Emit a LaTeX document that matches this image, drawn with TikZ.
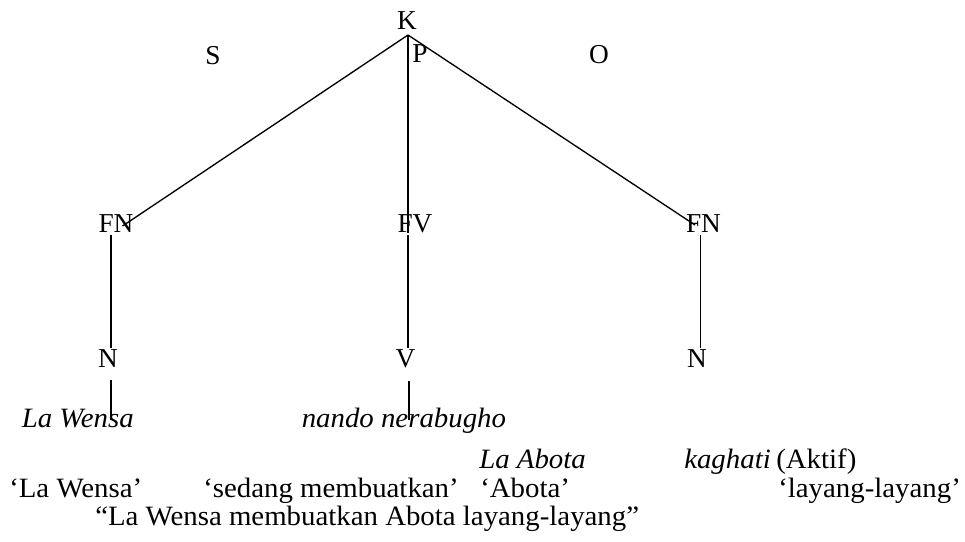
\documentclass[tikz,border=0pt]{standalone}
\usepackage{fontspec}
\setmainfont{Liberation Serif}
\newfontfamily\widefont{Liberation Serif}[FakeStretch=1.03]
\begin{document}
\begin{tikzpicture}[x=0.75pt,y=-0.75pt,
  lbl/.style={inner sep=0pt,anchor=base,font=\fontsize{20.5}{24}\selectfont},
  txt/.style={inner sep=0pt,anchor=base west,font=\widefont\fontsize{21}{24}\selectfont},
  branch/.style={line width=1pt,black}]
\useasboundingbox (0,0) rectangle (965,542);
% tree labels
\node[lbl] (K) at (407,30) {K};
\node[lbl] (S) at (213,65) {S};
\node[lbl] (P) at (420,63) {P};
\node[lbl] (O) at (599,64) {O};
\node[lbl] (FN1) at (116,233) {FN};
\node[lbl] (FV) at (415,233) {FV};
\node[lbl] (FN2) at (703.5,233) {FN};
\node[lbl] (N1) at (108,367) {N};
\node[lbl] (V) at (405.5,367) {V};
\node[lbl] (N2) at (697,367) {N};
% connector end points
\coordinate (apex) at (408,35);
\coordinate (fn1in) at (122.5,226);
\coordinate (fn2in) at (695,225);
\coordinate (fvtop) at (408,233);
\coordinate (fn1bot) at (111,235);
\coordinate (n1top) at (111,348);
\coordinate (fvbot) at (408,235);
\coordinate (vtop) at (408,348);
\coordinate (fn2bot) at (700.5,235);
\coordinate (n2top) at (700.5,348);
\coordinate (n1bot) at (111,380);
\coordinate (w1top) at (111,420);
\coordinate (vbot) at (409,381);
\coordinate (w2top) at (409,420);
% branches
\draw[branch] (apex) -- (fn1in);
\draw[branch] (apex) -- (fn2in);
\draw[branch] (apex) -- (fvtop);
\draw[branch] (fn1bot) -- (n1top);
\draw[branch] (fvbot) -- (vtop);
\draw[branch] (fn2bot) -- (n2top);
\draw[branch] (n1bot) -- (w1top);
\draw[branch] (vbot) -- (w2top);
% words
\node[txt] (w1) at (21.5,427) {\textit{La Wensa}};
\node[txt] (w2) at (301.5,427) {\textit{nando nerabugho}};
\node[txt] (w3) at (479,468) {\textit{La Abota}};
\node[txt] (w4) at (684,468) {\textit{kaghati}};
\node[txt] (akt) at (776,468) {(Aktif)};
\node[txt] (g1) at (9,497) {‘La Wensa’};
\node[txt] (g2) at (203,497) {‘sedang membuatkan’};
\node[txt] (g3) at (480,497) {‘Abota’};
\node[txt] (g4) at (778,497) {‘layang-layang’};
\node[txt] (tr) at (95,525) {“La Wensa membuatkan Abota layang-layang”};
\end{tikzpicture}
\end{document}
